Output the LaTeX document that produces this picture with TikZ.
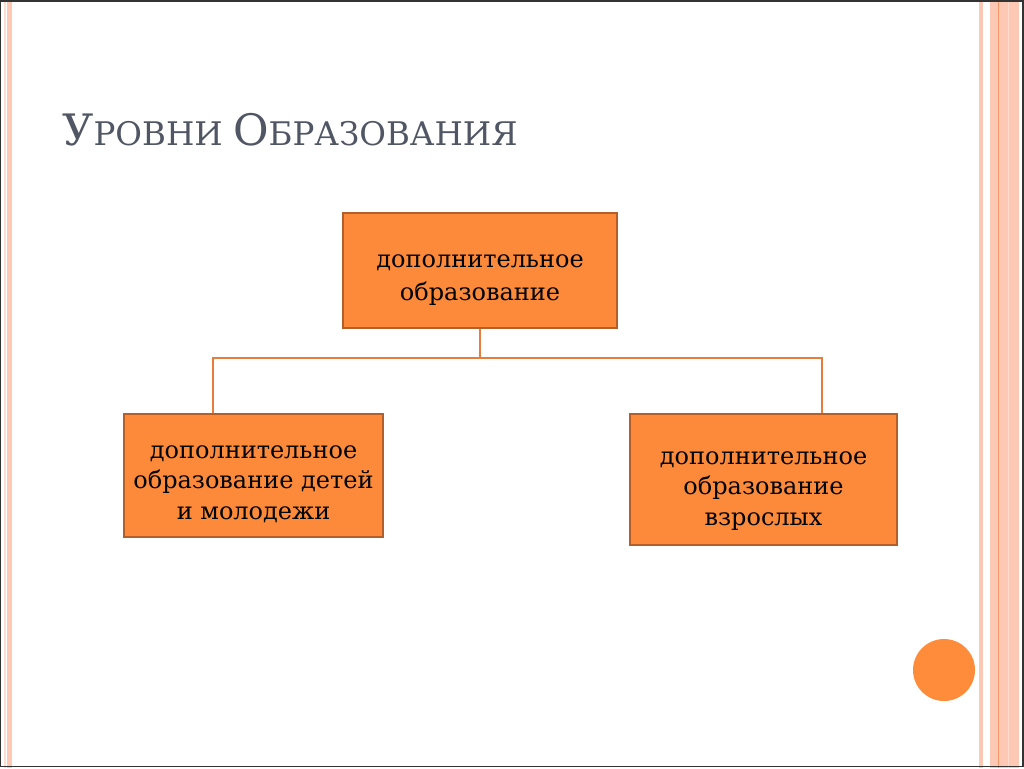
\documentclass[tikz,border=0pt]{standalone}
\usepackage{fontspec}
\setmainfont{DejaVu Serif}
\definecolor{boxfill}{RGB}{252,138,58}
\definecolor{boxline}{RGB}{180,95,42}
\definecolor{conn}{RGB}{230,125,60}
\definecolor{stripe}{RGB}{253,200,180}
\definecolor{stripelt}{RGB}{252,222,210}
\definecolor{stripedk}{RGB}{245,150,105}
\definecolor{titlecol}{RGB}{80,86,100}
\definecolor{dotcol}{RGB}{255,140,58}
\begin{document}
\begin{tikzpicture}[x=0.75pt,y=-0.75pt,
  levelbox/.style={draw=boxline,line width=1.6pt,fill=boxfill,inner sep=0pt},
  boxtext/.style={align=center,font=\fontsize{18}{23}\selectfont,text=black,inner sep=0pt},
  connline/.style={draw=conn,line width=0.9pt}]
\useasboundingbox (0,0) rectangle (1024,768);
\fill[white] (0,0) rectangle (1024,768);
% frame stripes
\fill[stripelt] (4,0) rectangle (5.5,768);
\fill[stripe] (7,0) rectangle (11.5,768);
\fill[stripe] (979,0) rectangle (983,768);
\fill[stripe] (990,0) rectangle (1019,768);
\fill[stripedk] (997.5,0) rectangle (999,768);
\fill[stripelt!80!stripe] (1008,0) rectangle (1009,768);
\draw[black!80,line width=1.2pt] (0.5,0.8) rectangle (1023.2,766.5);
% title
\node[anchor=base west,text=titlecol,inner sep=0pt] (title) at (62,145)
  {\fontsize{32.5}{36}\selectfont У\fontsize{24.4}{28}\selectfont РОВНИ \fontsize{32.5}{36}\selectfont О\fontsize{24.4}{28}\selectfont БРАЗОВАНИЯ};
% boxes
\node[levelbox,minimum width=205.5pt,minimum height=86.25pt] (top) at (480,270.5) {};
\node[boxtext,font=\fontsize{18}{25}\selectfont] (toptext) at ([yshift=-7pt]top.center)
  {дополнительное\\образование};
\node[levelbox,minimum width=194.25pt,minimum height=92.25pt] (left) at (253.5,475.5) {};
\node[boxtext] (lefttext) at ([yshift=-6.5pt]left.center)
  {дополнительное\\образование детей\\и молодежи};
\node[levelbox,minimum width=200.25pt,minimum height=98.25pt] (right) at (763.5,479.5) {};
\node[boxtext] (righttext) at ([yshift=-8.5pt]right.center)
  {дополнительное\\образование\\взрослых};
% connectors
\coordinate (jl) at (213,358);
\coordinate (jr) at (822,358);
\draw[connline] (top.south) |- (jl) -- (jl |- left.north);
\draw[connline] (top.south) |- (jr) -- (jr |- right.north);
% dot
\fill[dotcol] (944,670) circle (31);
\end{tikzpicture}
\end{document}
